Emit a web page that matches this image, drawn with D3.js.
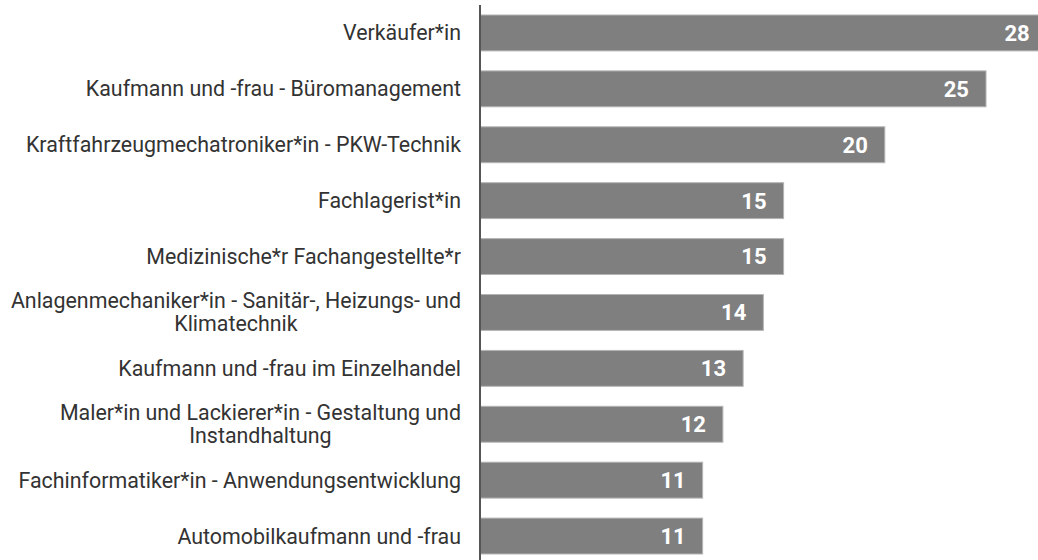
<!DOCTYPE html>
<html>
<head>
<meta charset="utf-8">
<script src="https://cdn.jsdelivr.net/npm/d3@7"></script>
<style>
  html, body { margin: 0; padding: 0; background: #fff; overflow: hidden; }
  svg { display: block; font-family: Roboto, "Noto Sans", sans-serif; }
</style>
</head>
<body>
<svg id="chart" width="1038" height="560"></svg>
<script>
(function (d3) {
    'use strict';

    // Ausbildungsberufe, sorted as in the original
    var categories = [
        'Verkäufer*in',
        'Kaufmann und -frau - Büromanagement',
        'Kraftfahrzeugmechatroniker*in - PKW-Technik',
        'Fachlagerist*in',
        'Medizinische*r Fachangestellte*r',
        'Anlagenmechaniker*in - Sanitär-, Heizungs- und Klimatechnik',
        'Kaufmann und -frau im Einzelhandel',
        'Maler*in und Lackierer*in - Gestaltung und Instandhaltung',
        'Fachinformatiker*in - Anwendungsentwicklung',
        'Automobilkaufmann und -frau'
    ];
    var values = [28, 25, 20, 15, 15, 14, 13, 12, 11, 11];

    var width = 1038, height = 560;
    var axisX = 480;

    var svg = d3.select('#chart');

    // bar for 28 runs a little past the right edge, like the original
    var x = d3.scaleLinear().domain([0, 28]).range([axisX, axisX + 28 * 20.24]);
    var y = d3.scaleBand()
        .domain(categories)
        .range([5, 564])
        .paddingInner(0.34)
        .paddingOuter(0.17);

    svg.selectAll('rect.bar')
        .data(values)
        .enter().append('rect')
        .attr('class', 'bar')
        .attr('x', axisX)
        .attr('y', function (d, i) { return y(categories[i]) + 0.5; })
        .attr('width', function (d) { return x(d) - axisX; })
        .attr('height', y.bandwidth() - 1)
        .style('fill', '#7f7f7f')
        .style('stroke', '#b4b4b4')
        .style('stroke-width', 1);

    svg.selectAll('text.val')
        .data(values)
        .enter().append('text')
        .attr('class', 'val')
        .attr('x', function (d) { return x(d) - 17; })
        .attr('y', function (d, i) { return y(categories[i]) + y.bandwidth() / 2; })
        .attr('dy', '0.36em')
        .attr('text-anchor', 'end')
        .style('font-size', '22px')
        .style('font-weight', 'bold')
        .style('fill', '#fff')
        .text(function (d) { return d; });

    // category labels, wrapped when too long; wrapped lines centred under each other
    var labelRight = 461, maxW = 452, lineH = 23;
    categories.forEach(function (c) {
        var cy = y(c) + y.bandwidth() / 2;
        var t = svg.append('text')
            .style('font-size', '21.4px')
            .style('fill', '#333');
        var words = c.split(' '), lines = [], cur = [];
        var probe = t.append('tspan');
        words.forEach(function (w) {
            cur.push(w);
            probe.text(cur.join(' '));
            if (probe.node().getComputedTextLength() > maxW && cur.length > 1) {
                cur.pop();
                lines.push(cur.join(' '));
                cur = [w];
            }
        });
        lines.push(cur.join(' '));
        probe.remove();

        var widest = 0;
        lines.forEach(function (l) {
            var p = t.append('tspan').text(l);
            widest = Math.max(widest, p.node().getComputedTextLength());
            p.remove();
        });
        var cx = lines.length > 1 ? labelRight - widest / 2 : labelRight;
        t.attr('text-anchor', lines.length > 1 ? 'middle' : 'end');
        lines.forEach(function (l, k) {
            t.append('tspan')
                .attr('x', cx)
                .attr('y', cy + (k - (lines.length - 1) / 2) * lineH)
                .attr('dy', '0.35em')
                .text(l);
        });
    });

    // vertical axis line
    svg.append('line')
        .attr('x1', axisX).attr('x2', axisX)
        .attr('y1', 5).attr('y2', height)
        .style('stroke', '#555')
        .style('stroke-width', 2);

}(window.d3));
</script>
</body>
</html>
